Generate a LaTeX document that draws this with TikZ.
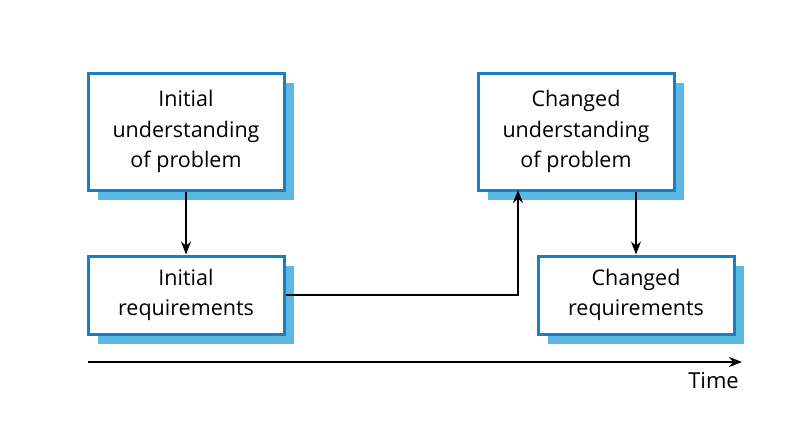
\documentclass[tikz,border=0pt]{standalone}
\usepackage{fontspec}
\setmainfont{Open Sans}
\usetikzlibrary{arrows.meta,shadows}
\definecolor{boxblue}{HTML}{1A7EC4}
\definecolor{shadowblue}{HTML}{5CB8E2}
\tikzset{
  reqbox/.style={draw=boxblue, line width=3pt, fill=white, align=center,
    minimum width=196pt, inner sep=0pt, font=\fontsize{21.5}{30.5}\selectfont,
    drop shadow={shadow xshift=10pt, shadow yshift=-10pt, fill=shadowblue, opacity=1}},
  flow/.style={line width=1.4pt, -{Stealth[length=13pt, width=10pt]}}
}
\begin{document}
\begin{tikzpicture}[x=1pt, y=-1pt]
  \useasboundingbox (0,0) rectangle (800,436);
  \node[reqbox, minimum height=117pt] (undA) at (186,131.5) {Initial\\understanding\\of problem};
  \node[reqbox, minimum height=78pt] (reqA) at (186,295) {Initial\\requirements};
  \node[reqbox, minimum height=117pt] (undB) at (576,131.5) {Changed\\understanding\\of problem};
  \node[reqbox, minimum height=78pt] (reqB) at (636,295) {Changed\\requirements};
  \coordinate (into) at (518,190);
  \coordinate (t0) at (88,362);
  \coordinate (t1) at (742,362);
  \node[anchor=north east, inner sep=0pt, font=\fontsize{22}{26}\selectfont] (time) at (739,372) {Time};
  \begin{scope}[flow]
    \draw (undA) to (reqA);
    \draw (reqA.east) -| (into);
    \draw (undB.south -| reqB.north) to (reqB.north);
    \draw[line width=2pt] (t0) to (t1);
  \end{scope}
\end{tikzpicture}
\end{document}
